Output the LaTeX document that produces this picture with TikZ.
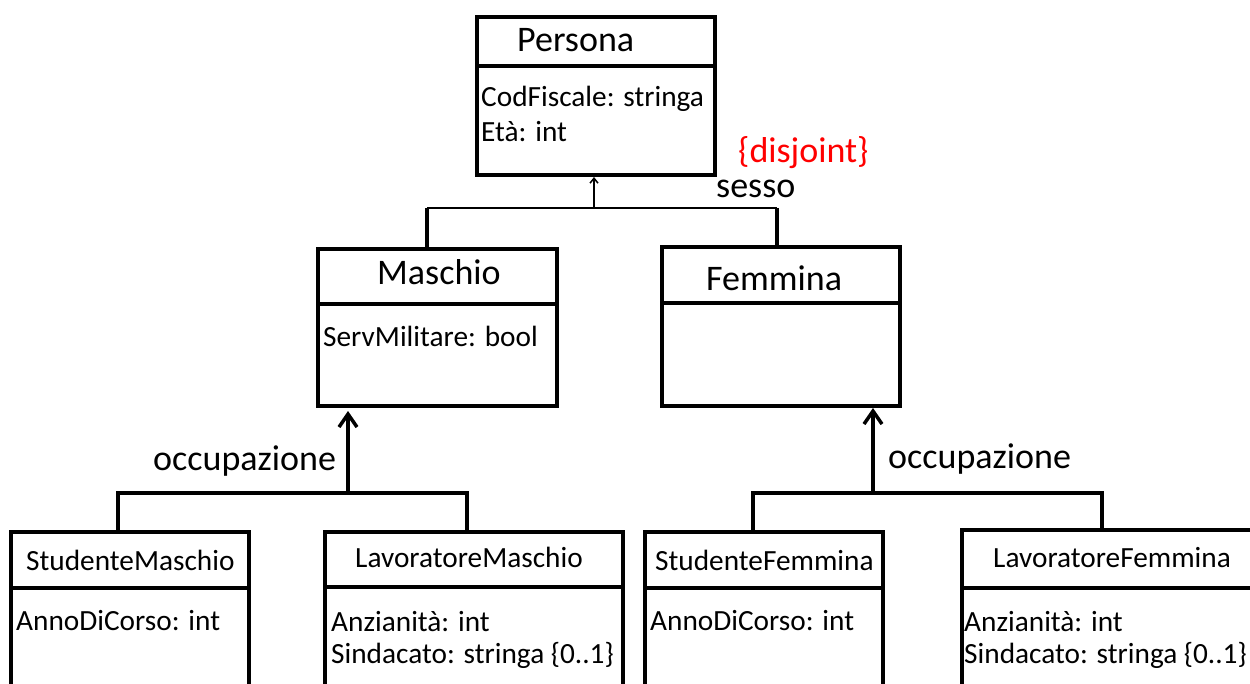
\documentclass[tikz,border=0pt]{standalone}
\usepackage{fontspec}
\setmainfont{Carlito}
\usetikzlibrary{arrows.meta}
\begin{document}
\begin{tikzpicture}[x=1pt,y=-1pt,
  box/.style={draw,line width=3.5pt,inner sep=0pt,outer sep=0pt,anchor=north west},
  big/.style={inner sep=0pt,anchor=base west,font=\fontsize{36}{40}\selectfont},
  small/.style={inner sep=0pt,anchor=base west,font=\fontsize{29.3}{32}\selectfont},
  link/.style={line width=3.5pt},
  inh/.style={line width=3.5pt,-{Straight Barb[length=13pt,width=18pt]}},
  thininh/.style={line width=1.5pt,-{Straight Barb[length=5pt,width=8pt]}},
]
\useasboundingbox (0,0) rectangle (1250,684);
\clip (0,0) rectangle (1250,684);

% ---------- boxes ----------
\node[box,minimum width=238pt,minimum height=49pt]  (persT) at (477,17) {};
\node[box,minimum width=238pt,minimum height=109pt] (persA) at (477,66) {};
\node[box,minimum width=239pt,minimum height=55pt]  (maschT) at (318,249) {};
\node[box,minimum width=239pt,minimum height=102pt] (maschA) at (318,304) {};
\node[box,minimum width=238pt,minimum height=56pt]  (femT) at (662,247) {};
\node[box,minimum width=238pt,minimum height=103pt] (femA) at (662,303) {};
\node[box,minimum width=238pt,minimum height=56pt]  (smT) at (11,532) {};
\node[box,minimum width=238pt,minimum height=130pt] (smA) at (11,588) {};
\node[box,minimum width=298pt,minimum height=55pt]  (lmT) at (325,532) {};
\node[box,minimum width=298pt,minimum height=130pt] (lmA) at (325,587) {};
\node[box,minimum width=238pt,minimum height=56pt]  (sfT) at (645,532) {};
\node[box,minimum width=238pt,minimum height=130pt] (sfA) at (645,588) {};
\node[box,minimum width=320pt,minimum height=58pt]  (lfT) at (962,530) {};
\node[box,minimum width=320pt,minimum height=130pt] (lfA) at (962,588) {};

% ---------- texts ----------
\node[big] (tPers) at (517,52) {Persona};
\node[small] (aPers1) at (481,107) {CodFiscale: stringa};
\node[small] (aPers2) at (481,142) {Età: int};
\node[big] (tMasch) at (377,285) {Maschio};
\node[small] (aMasch) at (323,347) {ServMilitare: bool};
\node[big] (tFem) at (706,291) {Femmina};
\node[small] (tSM) at (26,570) {StudenteMaschio};
\node[small] (aSM) at (16,630) {AnnoDiCorso: int};
\node[small] (tLM) at (355,567) {LavoratoreMaschio};
\node[small] (aLM1) at (331,631) {Anzianità: int};
\node[small] (aLM2) at (331,663) {Sindacato: stringa \{0..1\}};
\node[small] (tSF) at (655,570) {StudenteFemmina};
\node[small] (aSF) at (650,630) {AnnoDiCorso: int};
\node[small] (tLF) at (993,567) {LavoratoreFemmina};
\node[small] (aLF1) at (964,631) {Anzianità: int};
\node[small] (aLF2) at (964,663) {Sindacato: stringa \{0..1\}};

\node[big,text=red] (disj) at (738,163) {\{disjoint\}};
\node[big] (sesso) at (716,198) {sesso};
\node[big] (occ1) at (153,470) {occupazione};
\node[big] (occ2) at (888,468) {occupazione};

% ---------- generalisation: sesso ----------
\coordinate (sL) at (427,208);
\coordinate (sR) at (777,208);
\coordinate (sA) at (594,208);
\draw[link] (maschT.north -| sL) -- (sL);
\draw[line width=2.8pt] (sL) -- (sR);
\draw[link] (sR) -- (femT.north -| sR);
\draw[thininh,shorten >=2pt] (sA) -- (sA |- persA.south);

% ---------- generalisation: occupazione (Maschio) ----------
\coordinate (o1L) at (118,493);
\coordinate (o1R) at (467,493);
\coordinate (o1A) at (348,493);
\draw[link] (smT.north -| o1L) -- (o1L) -- (o1R) -- (lmT.north -| o1R);
\draw[inh,shorten >=5pt] (o1A) -- (o1A |- maschA.south);

% ---------- generalisation: occupazione (Femmina) ----------
\coordinate (o2L) at (753,493);
\coordinate (o2R) at (1102,493);
\coordinate (o2A) at (873,493);
\draw[link] (sfT.north -| o2L) -- (o2L) -- (o2R) -- (lfT.north -| o2R);
\draw[inh,shorten >=2pt] (o2A) -- (o2A |- femA.south);
\end{tikzpicture}
\end{document}
